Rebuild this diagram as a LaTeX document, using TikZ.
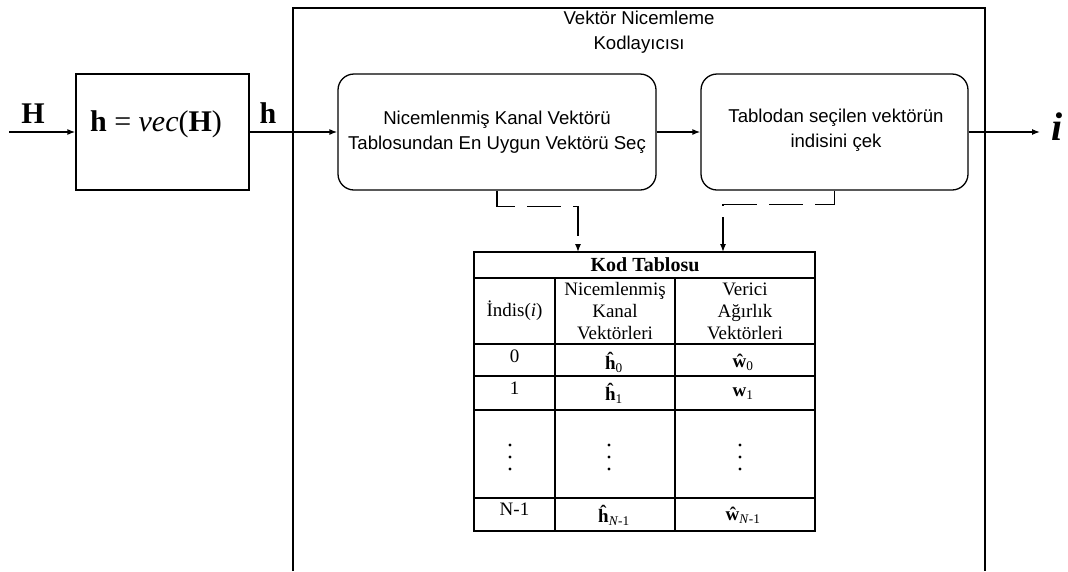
\documentclass[tikz,border=0pt]{standalone}
\usepackage{fontspec}
\setmainfont{Liberation Serif}
\newfontfamily\sansf{Liberation Sans}
\usetikzlibrary{arrows.meta}
\begin{document}
\begin{tikzpicture}[x=1pt,y=-1pt,line width=1.3pt,
  arr/.style={-{Latex[length=8pt,width=6pt]}},
  dsh/.style={dash pattern=on 34pt off 12pt},
  rblock/.style={draw,rounded corners=16pt,inner sep=0pt,minimum height=116pt},
  sbtxt/.style={align=center,font=\sansf\fontsize{18.6}{24.5}\selectfont,inner sep=0pt},
  tcell/.style={align=center,font=\fontsize{19}{22}\selectfont,inner sep=0pt},
  bigm/.style={font=\fontsize{30}{32}\selectfont,inner sep=0pt},
  vdot/.style={circle,fill,inner sep=0pt,minimum size=3.2pt}
]
\useasboundingbox (0,0) rectangle (1068,571);
% outer encoder frame
\draw (293,571) -- (293,8) -- (985,8) -- (985,571);
\node[sbtxt] (title) at (639,32) {Vektör Nicemleme\\Kodlayıcısı};
% block 1
\node[draw,minimum width=173pt,minimum height=116pt,inner sep=0pt] (b1) at (162.5,132) {};
\node[bigm] (b1t) at (156,124) {\textbf{h} = \textit{vec}(\textbf{H})};
% block 2, 3
\node[rblock,minimum width=318pt] (b2) at (497,132) {};
\node[sbtxt] (b2t) at (497,132) {Nicemlenmiş Kanal Vektörü\\Tablosundan En Uygun Vektörü Seç};
\node[rblock,minimum width=267pt] (b3) at (834.5,132) {};
\node[sbtxt] (b3t) at (836,130) {Tablodan seçilen vektörün\\indisini çek};
% signal labels
\node[bigm] (lH) at (33,114) {\textbf{H}};
\node[bigm] (lh) at (268,113) {\textbf{h}};
\node[font=\fontsize{40}{42}\selectfont,inner sep=0pt] (li) at (1057,127) {\textbf{\textit{i}}};
% connectors
\coordinate (inH) at (9,132);
\coordinate (outI) at (1040,132);
\draw[arr] (inH) -- (b1.west);
\draw[arr] (b1.east) -- (b2.west);
\draw[arr] (b2.east) -- (b3.west);
\draw[arr] (b3.east) -- (outI);
% table
\node[draw,minimum width=341pt,minimum height=279pt,inner sep=0pt] (tbl) at (644.5,391.5) {};
\coordinate (t1) at (578,252);
\coordinate (t2) at (723,252);
\draw[dsh,arr] (b2.south) -- ++(0,16) -| (t1);
\draw[dsh,arr] (b3.south) -- ++(0,14) -| (t2);
\foreach \yy in {278,344,376,410,498} \draw (474,\yy) -- (815,\yy);
\foreach \xx in {555,675} \draw (\xx,278) -- (\xx,531);
\node[tcell,font=\bfseries\fontsize{20}{22}\selectfont] (kt) at (645,265) {Kod Tablosu};
\node[tcell] (h1) at (514.5,311) {İndis(\textit{i})};
\node[tcell] (h2) at (615,311) {Nicemlenmiş\\Kanal\\Vektörleri};
\node[tcell] (h3) at (745,311) {Verici\\Ağırlık\\Vektörleri};
\node[tcell] (r0a) at (514.5,356) {0};
\node[tcell] (r0b) at (614,362) {\textbf{ĥ}\textsubscript{0}};
\node[tcell] (r0c) at (743,362) {\textbf{ŵ}\textsubscript{0}};
\node[tcell] (r1a) at (514.5,388) {1};
\node[tcell] (r1b) at (614,393) {\textbf{ĥ}\textsubscript{1}};
\node[tcell] (r1c) at (743,394) {\textbf{w}\textsubscript{1}};
\foreach \xx/\nm in {510/a,609/b,740/c}
  \foreach \yy/\k in {445/1,457/2,469/3}
    \node[vdot] (dot\nm\k) at (\xx,\yy) {};
\node[tcell] (rNa) at (514.5,509) {N-1};
\node[tcell] (rNb) at (614,515) {\textbf{ĥ}\textsubscript{\textit{N}-1}};
\node[tcell] (rNc) at (743,515) {\textbf{ŵ}\textsubscript{\textit{N}-1}};
\end{tikzpicture}
\end{document}
